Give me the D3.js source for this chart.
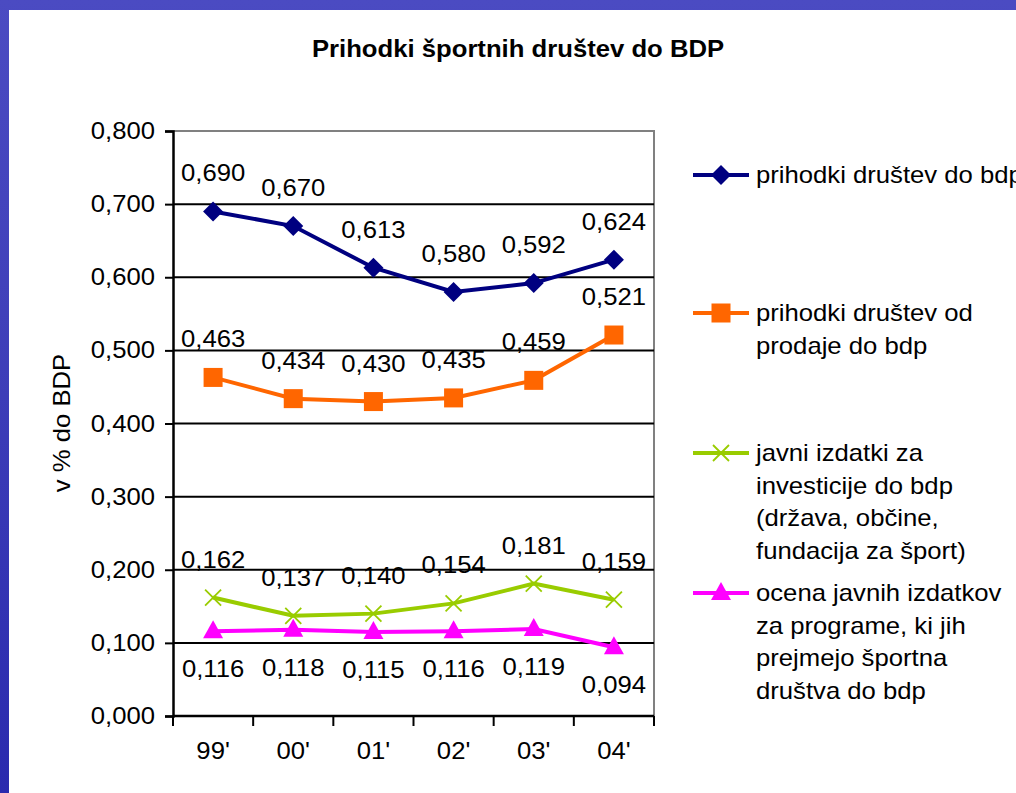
<!DOCTYPE html>
<html>
<head>
<meta charset="utf-8">
<script src="https://cdn.jsdelivr.net/npm/d3@7"></script>
<style>
  html, body { margin: 0; padding: 0; }
  body { width: 1016px; height: 793px; overflow: hidden; }
  svg text { font-family: Arial, "Liberation Sans", sans-serif; fill: #000; }
</style>
</head>
<body>
<svg id="chart" width="1016" height="793"></svg>
<script>
// chart values
var years = ["99'", "00'", "01'", "02'", "03'", "04'"];
var prihodki = [0.690, 0.670, 0.613, 0.580, 0.592, 0.624];
var prodaja = [0.463, 0.434, 0.430, 0.435, 0.459, 0.521];
var investicije = [0.162, 0.137, 0.140, 0.154, 0.181, 0.159];
var programi = [0.116, 0.118, 0.115, 0.116, 0.119, 0.094];
var yTicks = [0, 0.1, 0.2, 0.3, 0.4, 0.5, 0.6, 0.7, 0.8];

var seriesNames = [
  ["prihodki društev do bdp"],
  ["prihodki društev od", "prodaje do bdp"],
  ["javni izdatki za", "investicije do bdp", "(država, občine,", "fundacija za šport)"],
  ["ocena javnih izdatkov", "za programe, ki jih", "prejmejo športna", "društva do bdp"]
];

var series = [
  { values: prihodki, name: seriesNames[0], color: "#000080", marker: "diamond", below: false },
  { values: prodaja, name: seriesNames[1], color: "#FF6600", marker: "square", below: false },
  { values: investicije, name: seriesNames[2], color: "#99CC00", marker: "cross", below: false },
  { values: programi, name: seriesNames[3], color: "#FF00FF", marker: "triangle", below: true }
];

var FONT = "24px";
var STRETCH = 1.07; // text in the slide is a bit wider than plain Arial

var svg = d3.select("#chart");

// slide background
var defs = svg.append("defs");
var grad = defs.append("linearGradient").attr("id", "slidebg")
  .attr("x1", 0).attr("y1", 0).attr("x2", 0).attr("y2", 1);
grad.append("stop").attr("offset", "0%").attr("stop-color", "#4b4bc2");
grad.append("stop").attr("offset", "50%").attr("stop-color", "#3d3db8");
grad.append("stop").attr("offset", "100%").attr("stop-color", "#2a2aae");
svg.append("rect").attr("width", 1016).attr("height", 793).attr("fill", "url(#slidebg)");
svg.append("rect").attr("x", 9).attr("y", 10).attr("width", 1007).attr("height", 783).attr("fill", "#fff");

var plotLeft = 173, plotRight = 654, plotTop = 131, plotBottom = 716;

var x = d3.scaleBand().domain(years).range([plotLeft, plotRight]);
var y = d3.scaleLinear().domain([0, 0.8]).range([plotBottom, plotTop]);
var fmt = function (v) { return d3.format(".3f")(v).replace(".", ","); };
var cx = function (i) { return x(years[i]) + x.bandwidth() / 2; };

// put a text at px,py with a slight horizontal stretch
function putText(g, px, py, txt, anchor) {
  return g.append("text")
    .attr("transform", `translate(${px},${py}) scale(${STRETCH},1)`)
    .attr("text-anchor", anchor || "start")
    .style("font-size", FONT)
    .text(txt);
}

// title
putText(svg, 518, 57, "Prihodki športnih društev do BDP", "middle")
  .style("font-weight", "bold");

// plot border (top + right gray)
svg.append("path")
  .attr("d", `M${plotLeft},${plotTop}H${plotRight}V${plotBottom}`)
  .attr("fill", "none").attr("stroke", "#808080").attr("stroke-width", 2);

// gridlines
svg.append("g").selectAll("line")
  .data(yTicks.filter(function (t) { return t > 0 && t < 0.8; }))
  .enter().append("line")
  .attr("x1", plotLeft).attr("x2", plotRight)
  .attr("y1", function (d) { return y(d); }).attr("y2", function (d) { return y(d); })
  .attr("stroke", "#000").attr("stroke-width", 2);

// y axis
var yAxis = d3.axisLeft(y).tickValues(yTicks).tickFormat("").tickSize(8);
var gy = svg.append("g").attr("transform", `translate(${plotLeft},0)`).call(yAxis);
gy.select(".domain").attr("stroke", "#000").attr("stroke-width", 2.5);
gy.selectAll(".tick line").attr("stroke", "#000").attr("stroke-width", 2);
yTicks.forEach(function (t) {
  putText(svg, 155, y(t) + 8, fmt(t), "end");
});

// x axis
var xAxis = d3.axisBottom(x).tickSize(0).tickFormat("");
var gx = svg.append("g").attr("transform", `translate(0,${plotBottom})`).call(xAxis);
gx.select(".domain").remove();
years.forEach(function (d, i) {
  putText(svg, cx(i), 759, d, "middle");
});
svg.append("line")
  .attr("x1", plotLeft).attr("x2", plotRight).attr("y1", plotBottom).attr("y2", plotBottom)
  .attr("stroke", "#000").attr("stroke-width", 2.5);
svg.append("g").selectAll("line")
  .data(years.map(function (d) { return x(d); }).concat([plotRight]))
  .enter().append("line")
  .attr("x1", function (d) { return d; }).attr("x2", function (d) { return d; })
  .attr("y1", plotBottom).attr("y2", plotBottom + 10)
  .attr("stroke", "#000").attr("stroke-width", 2);

// y axis title
svg.append("text")
  .attr("transform", `translate(70,423) rotate(-90) scale(${STRETCH},1)`)
  .attr("text-anchor", "middle")
  .style("font-size", FONT)
  .text("v % do BDP");

function drawMarker(g, type, px, py, color) {
  if (type === "diamond") {
    g.append("path").attr("d", `M${px},${py - 10}L${px + 10},${py}L${px},${py + 10}L${px - 10},${py}Z`)
      .attr("fill", color);
  } else if (type === "square") {
    g.append("rect").attr("x", px - 9.5).attr("y", py - 9.5).attr("width", 19).attr("height", 19)
      .attr("fill", color);
  } else if (type === "cross") {
    g.append("path").attr("d", `M${px - 8},${py - 8}L${px + 8},${py + 8}M${px - 8},${py + 8}L${px + 8},${py - 8}`)
      .attr("stroke", color).attr("stroke-width", 1.8).attr("fill", "none");
  } else if (type === "triangle") {
    g.append("path").attr("d", `M${px},${py - 11}L${px + 10},${py + 7}L${px - 10},${py + 7}Z`)
      .attr("fill", color);
  }
}

var line = d3.line()
  .x(function (d, i) { return cx(i); })
  .y(function (d) { return y(d); });

series.forEach(function (s) {
  var g = svg.append("g");
  g.append("path").datum(s.values).attr("d", line)
    .attr("fill", "none").attr("stroke", s.color).attr("stroke-width", 4);
  s.values.forEach(function (v, i) {
    drawMarker(g, s.marker, cx(i), y(v), s.color);
  });
  s.values.forEach(function (v, i) {
    putText(g, cx(i), s.below ? y(v) + 46 : y(v) - 30, fmt(v), "middle");
  });
});

// legend
var legendY = [175, 313, 453, 593];
series.forEach(function (s, k) {
  var g = svg.append("g");
  var ly = legendY[k];
  g.append("line").attr("x1", 693).attr("x2", 749).attr("y1", ly).attr("y2", ly)
    .attr("stroke", s.color).attr("stroke-width", 4);
  drawMarker(g, s.marker, 721, ly, s.color);
  s.name.forEach(function (t, j) {
    putText(g, 756, ly + 8 + j * 32.5, t);
  });
});
</script>
</body>
</html>
